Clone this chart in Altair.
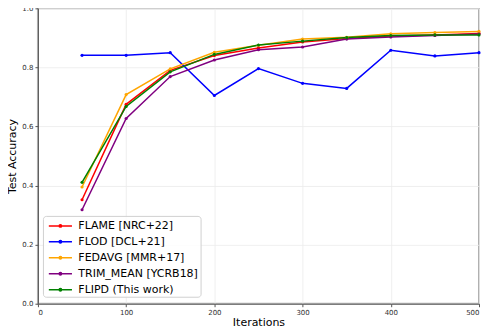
import altair as alt
import pandas as pd

iterations = [50, 100, 150, 200, 250, 300, 350, 400, 450, 500]
series_names = ["FLAME [NRC+22]", "FLOD [DCL+21]", "FEDAVG [MMR+17]",
                "TRIM_MEAN [YCRB18]", "FLIPD (This work)"]
flame = [0.352, 0.675, 0.790, 0.840, 0.866, 0.886, 0.898, 0.906, 0.910, 0.915]
flod = [0.841, 0.841, 0.850, 0.705, 0.796, 0.746, 0.729, 0.858, 0.839, 0.850]
fedavg = [0.395, 0.708, 0.795, 0.851, 0.875, 0.896, 0.902, 0.914, 0.918, 0.922]
trim_mean = [0.318, 0.627, 0.769, 0.825, 0.860, 0.869, 0.896, 0.903, 0.908, 0.913]
flipd = [0.411, 0.668, 0.785, 0.844, 0.876, 0.889, 0.901, 0.908, 0.910, 0.910]
colors = ["red", "blue", "orange", "purple", "green"]

rows = []
for i, (name, vals) in enumerate(zip(series_names, [flame, flod, fedavg, trim_mean, flipd])):
    for it, v in zip(iterations, vals):
        rows.append({"Iterations": it, "Accuracy": v, "Method": name, "order": i})
df = pd.DataFrame(rows)

font = "DejaVu Sans"

chart = alt.Chart(df).mark_line(
    strokeWidth=1.5,
    point=alt.OverlayMarkDef(filled=True, size=10),
).encode(
    x=alt.X("Iterations:Q", scale=alt.Scale(domain=[0, 500], nice=False),
            axis=alt.Axis(values=[0, 100, 200, 300, 400, 500], title="Iterations")),
    y=alt.Y("Accuracy:Q", scale=alt.Scale(domain=[0, 1], nice=False),
            axis=alt.Axis(values=[0, 0.2, 0.4, 0.6, 0.8, 1.0], format=".1f",
                          title="Test Accuracy")),
    color=alt.Color("Method:N", sort=series_names,
                    scale=alt.Scale(domain=series_names, range=colors),
                    legend=alt.Legend(
                        title=None, orient="none", legendX=5, legendY=208,
                        symbolType="M-1.6,0H1.6M-0.17,0A0.17,0.17,0,1,1,0.17,0A0.17,0.17,0,1,1,-0.17,0",
                        symbolSize=210, symbolStrokeWidth=1.5, symbolOffset=7.5,
                        labelFontSize=11, labelFont=font, labelColor="#000",
                        rowPadding=3, padding=2,
                        fillColor="rgba(255,255,255,0.8)", strokeColor="#d0d0d0",
                        cornerRadius=3, labelOffset=10,
                    )),
    order=alt.Order("order:Q"),
).properties(
    width=442, height=296,
    autosize=alt.AutoSizeParams(type="none"),
    padding={"left": 30, "top": 0, "right": 2, "bottom": 25},
).configure_view(
    stroke="#b0b0b0", strokeWidth=2
).configure_axis(
    labelFont=font, labelFontSize=7, labelColor="#333",
    titleFont=font, titleFontSize=11, titleColor="#000", titleFontWeight="normal",
    gridColor="#ebebeb", gridWidth=0.8,
    domainColor="#555", domainWidth=1,
    tickColor="#555", tickSize=3,
    labelPadding=2,
).configure_axisX(titlePadding=1).configure_axisY(titlePadding=4)

chart.save("out.html", embed_options={"renderer": "svg", "actions": False})
